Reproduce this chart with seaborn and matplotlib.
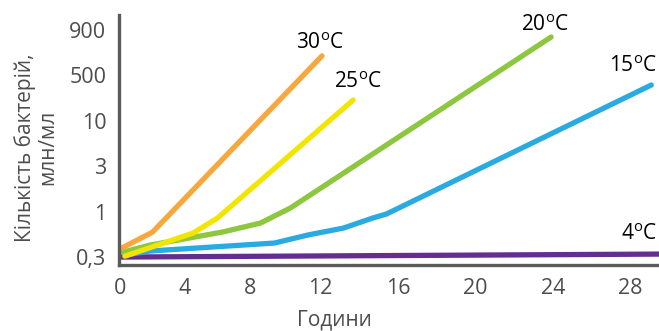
import numpy as np
import pandas as pd
import matplotlib
matplotlib.use("Agg")
import matplotlib.pyplot as plt
import seaborn as sns

# ---- data ----
temps = ["4", "15", "20", "25", "30"]
hours_4 = [0, 30]
count_4 = [0.30, 0.325]
hours_15 = [0.3, 1.85, 9.4, 11.3, 13.2, 14.7, 15.4, 29.1]
count_15 = [0.316, 0.352, 0.435, 0.538, 0.647, 0.844, 0.938, 219]
hours_20 = [0.2, 1.85, 6.3, 8.6, 10.3, 23.9]
count_20 = [0.343, 0.412, 0.582, 0.739, 1.09, 822]
hours_25 = [0.3, 4.5, 6.0, 13.7]
count_25 = [0.307, 0.567, 0.844, 60]
hours_30 = [0.1, 2.0, 12.1]
count_30 = [0.38, 0.58, 644]

x_ticks = [0, 4, 8, 12, 16, 20, 24, 28]
y_ticks = [0.3, 1, 3, 10, 500, 900]
y_tick_labels = ["0,3", "1", "3", "10", "500", "900"]

colors = {"4": "#662d91", "15": "#29abe2", "20": "#8dc63f", "25": "#f2e500", "30": "#f7a73c"}
# axis geometry of the reference (uneven spacing of tick labels)
x_tick_pos = [120, 185, 250, 320, 398, 475, 553, 630]
label_offsets = {"4": (-30, 20), "15": (-18, 19), "20": (-6, 12), "25": (5, 18), "30": (-2, 12)}

series = {"4": (hours_4, count_4), "15": (hours_15, count_15), "20": (hours_20, count_20),
          "25": (hours_25, count_25), "30": (hours_30, count_30)}
rows = []
for t in temps:
    h, c = series[t]
    for i, (a, b) in enumerate(zip(h, c)):
        rows.append({"temp": t, "hours": a, "count": b, "order": i})
df = pd.DataFrame(rows)


def piecewise(xs, ys):
    xs = np.asarray(xs, float)
    ys = np.asarray(ys, float)

    def f(v):
        v = np.asarray(v, float)
        out = np.interp(v, xs, ys)
        s0 = (ys[1] - ys[0]) / (xs[1] - xs[0])
        s1 = (ys[-1] - ys[-2]) / (xs[-1] - xs[-2])
        out = np.where(v < xs[0], ys[0] + (v - xs[0]) * s0, out)
        out = np.where(v > xs[-1], ys[-1] + (v - xs[-1]) * s1, out)
        return out
    return f


fx = piecewise(x_ticks, x_tick_pos)
fx_inv = piecewise(x_tick_pos, x_ticks)
levels = np.arange(len(y_ticks), dtype=float)
logt = np.log(y_ticks)
fy_log = piecewise(logt, levels)
fy_inv_log = piecewise(levels, logt)


def fy(v):
    v = np.asarray(v, float)
    return fy_log(np.log(np.clip(v, 1e-12, None)))


def fy_inv(p):
    return np.exp(fy_inv_log(p))


sns.set_theme(style="white")
plt.rcParams["font.family"] = ["Open Sans", "DejaVu Sans"]

fig = plt.figure(figsize=(6.59, 3.31), dpi=100)
ax = fig.add_axes([119 / 659, 66 / 331, 540 / 659, 250 / 331])

ax.set_xscale("function", functions=(fx, fx_inv))
ax.set_yscale("function", functions=(fy, fy_inv))

sns.lineplot(data=df, x="hours", y="count", hue="temp", hue_order=temps,
             palette=colors, units="temp", estimator=None, sort=False,
             linewidth=3.8, legend=False, ax=ax)

ax.set_xlim(-0.06, 29.5)
ax.set_ylim(0.243, 1093)

ax.set_xticks(x_ticks)
ax.set_xticklabels([str(v) for v in x_ticks])
ax.set_yticks(y_ticks)
ax.set_yticklabels(y_tick_labels)
ax.minorticks_off()
ax.tick_params(axis="both", length=0, labelsize=15.5, labelcolor="#4d4d4d")
ax.tick_params(axis="x", pad=9)
ax.tick_params(axis="y", pad=9)

for s in ["top", "right"]:
    ax.spines[s].set_visible(False)
for s in ["left", "bottom"]:
    ax.spines[s].set_color("#5a5a5a")
    ax.spines[s].set_linewidth(2.4)
ax.grid(False)

ax.set_xlabel("Години", fontsize=15, color="#4d4d4d")
ax.xaxis.set_label_coords((334 - 119) / 540, (265 - 310) / 250)
ax.set_ylabel("Кількість бактерій,\nмлн/мл", fontsize=15, color="#4d4d4d", linespacing=1.05)
ax.yaxis.set_label_coords((58 - 119) / 540, 0.47)

for t in temps:
    h, c = series[t]
    ax.annotate(t + r"$^{\mathregular{o}}$C", xy=(h[-1], c[-1]), xytext=label_offsets[t],
                textcoords="offset pixels", ha="center", va="center",
                fontsize=15, color="black", annotation_clip=False)

fig.savefig("out.png", dpi=100)
